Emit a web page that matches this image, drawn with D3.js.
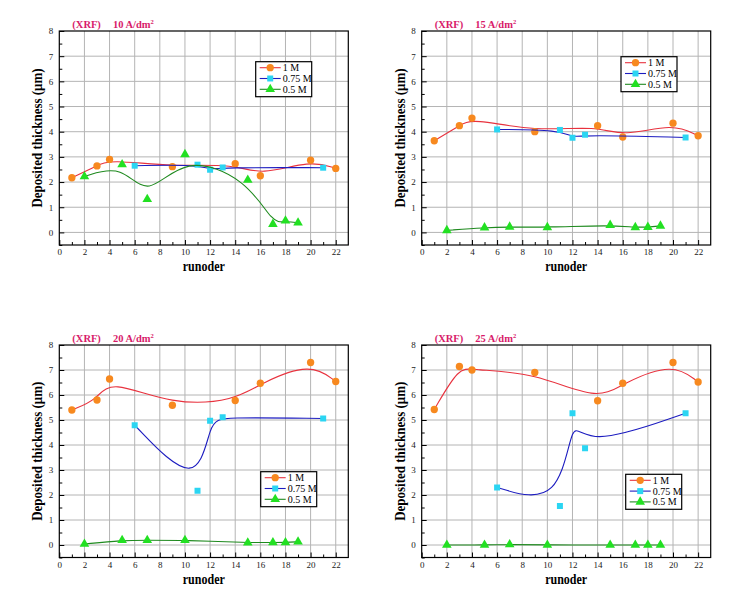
<!DOCTYPE html>
<html><head><meta charset="utf-8">
<script src="https://cdn.jsdelivr.net/npm/d3@7"></script>
<style>body{margin:0;background:#fff}svg{display:block}</style>
</head><body>
<script>
// ---- data ----
const currents = ["10", "15", "20", "25"];
const seriesNames = ["1 M", "0.75 M", "0.5 M"];
const x1M = [1, 3, 4, 9, 14, 16, 20, 22];
const x075M = [6, 11, 12, 13, 21];
const x05M = [2, 5, 7, 10, 15, 17, 18, 19];
const c10_1M = [2.17, 2.64, 2.90, 2.61, 2.73, 2.25, 2.87, 2.54];
const c10_075M = [2.65, 2.69, 2.49, 2.58, 2.57];
const c10_05M = [2.22, 2.70, 1.32, 3.10, 2.08, 0.33, 0.46, 0.38];
const c15_1M = [3.64, 4.24, 4.54, 4.00, 4.24, 3.79, 4.34, 3.84];
const c15_075M = [4.09, 4.07, 3.76, 3.88, 3.77];
const c15_05M = [0.08, 0.19, 0.22, 0.20, 0.29, 0.20, 0.21, 0.26];
const c20_1M = [5.40, 5.80, 6.64, 5.59, 5.78, 6.47, 7.30, 6.54];
const c20_075M = [4.79, 2.17, 4.97, 5.11, 5.06];
const c20_05M = [0.04, 0.19, 0.19, 0.19, 0.09, 0.10, 0.10, 0.13];
const c25_1M = [5.42, 7.14, 7.00, 6.90, 5.77, 6.47, 7.30, 6.52];
const c25_075M = [2.30, 1.56, 5.27, 3.87, 5.27];
const c25_05M = [0.00, 0.00, 0.02, 0.00, 0.00, 0.00, 0.00, 0.00];
const xTicks = [0, 2, 4, 6, 8, 10, 12, 14, 16, 18, 20, 22];
const yTicks = [0, 1, 2, 3, 4, 5, 6, 7, 8];

const panelValues = [
  [c10_1M, c10_075M, c10_05M],
  [c15_1M, c15_075M, c15_05M],
  [c20_1M, c20_075M, c20_05M],
  [c25_1M, c25_075M, c25_05M]
];
const seriesX = [x1M, x075M, x05M];

// ---- style ----
const lineColors = ["#e8323e", "#1c1cc0", "#1f8a1f"];
const markColors = ["#f7891f", "#2bd5f2", "#22e022"];
const serif = "'Liberation Serif','Times New Roman',serif";

const panels = [
  {l: 59.3, r: 348.3, t: 31, b: 245, legend: [255.7, 61.7]},
  {l: 421.7, r: 710.7, t: 31, b: 245, legend: [621, 56.7]},
  {l: 59.3, r: 348.3, t: 345, b: 557.5, legend: [260.7, 471.7]},
  {l: 421.7, r: 710.7, t: 345, b: 557.5, legend: [625.7, 474.3]}
];

const svg = d3.select("body").append("svg").attr("width", 739).attr("height", 608);

panels.forEach((p, pi) => {
  const x = d3.scaleLinear().domain([0, 23]).range([p.l, p.r]);
  const y = d3.scaleLinear().domain([-0.5, 8]).range([p.b, p.t]);
  const g = svg.append("g");

  // grid
  g.append("g").selectAll("line").data(xTicks.filter(v => v > 0)).join("line")
    .attr("x1", d => x(d)).attr("x2", d => x(d)).attr("y1", p.t).attr("y2", p.b)
    .attr("stroke", "#b4b4b4").attr("stroke-width", 1);
  g.append("g").selectAll("line").data(yTicks.filter(v => v < 8)).join("line")
    .attr("x1", p.l).attr("x2", p.r).attr("y1", d => y(d)).attr("y2", d => y(d))
    .attr("stroke", "#b4b4b4").attr("stroke-width", 1);

  // axes (inward ticks)
  const xAxis = d3.axisBottom(x).tickValues(xTicks).tickSize(-5).tickPadding(4).tickFormat(d3.format("d"));
  const yAxis = d3.axisLeft(y).tickValues(yTicks).tickSize(-5).tickPadding(6).tickFormat(d3.format("d"));
  const gx = g.append("g").attr("transform", `translate(0,${p.b})`).call(xAxis);
  const gy = g.append("g").attr("transform", `translate(${p.l},0)`).call(yAxis);
  const xMinor = d3.axisBottom(x).tickValues(d3.range(1, 23, 2)).tickSize(-3).tickFormat("");
  const yMinor = d3.axisLeft(y).tickValues(d3.range(-0.5, 8, 1)).tickSize(-3).tickFormat("");
  g.append("g").attr("transform", `translate(0,${p.b})`).call(xMinor).select(".domain").remove();
  g.append("g").attr("transform", `translate(${p.l},0)`).call(yMinor).select(".domain").remove();
  [gx, gy].forEach(a => {
    a.select(".domain").remove();
    a.selectAll("text").attr("font-family", serif).attr("font-size", 9).attr("fill", "#222");
  });
  g.selectAll(".tick line").attr("stroke", "#000");
  // frame
  g.append("rect").attr("x", p.l).attr("y", p.t).attr("width", p.r - p.l).attr("height", p.b - p.t)
    .attr("fill", "none").attr("stroke", "#000").attr("stroke-width", 1.2);

  // series
  const lineGen = d3.line().curve(d3.curveBasis).x(d => x(d[0])).y(d => y(d[1]));
  const sym = [d3.symbolCircle, d3.symbolSquare, d3.symbolTriangle];
  const symSize = [42, 36, 40];
  panelValues[pi].forEach((vals, si) => {
    const pts = seriesX[si].map((xv, i) => [xv, vals[i]]);
    g.append("path").attr("d", lineGen(pts)).attr("fill", "none")
      .attr("stroke", lineColors[si]).attr("stroke-width", 1.1);
    g.append("g").selectAll("path").data(pts).join("path")
      .attr("transform", d => `translate(${x(d[0])},${y(d[1])})`)
      .attr("d", d3.symbol().type(sym[si]).size(symSize[si]))
      .attr("fill", markColors[si]);
  });

  // legend
  const [lx, ly] = p.legend;
  const lg = g.append("g").attr("transform", `translate(${lx},${ly})`);
  lg.append("rect").attr("width", 56).attr("height", 35).attr("fill", "#fff")
    .attr("stroke", "#000").attr("stroke-width", 1.2);
  seriesNames.forEach((nm, si) => {
    const yy = 6 + si * 10.8;
    lg.append("line").attr("x1", 4).attr("x2", 25).attr("y1", yy).attr("y2", yy)
      .attr("stroke", lineColors[si]).attr("stroke-width", 1.1);
    lg.append("path").attr("transform", `translate(14.5,${yy})`)
      .attr("d", d3.symbol().type(sym[si]).size(symSize[si])).attr("fill", markColors[si]);
    lg.append("text").attr("x", 27).attr("y", yy + 3.5).text(nm)
      .attr("font-family", serif).attr("font-size", 10).attr("fill", "#000");
  });

  // title
  const tt = svg.append("text").attr("x", p.l + 13).attr("y", p.t - 3)
    .attr("font-family", serif).attr("font-size", 10.5).attr("font-weight", "bold").attr("fill", "#d81b6a");
  tt.append("tspan").text("(XRF)");
  tt.append("tspan").attr("dx", 12).text(currents[pi] + " A/dm");
  tt.append("tspan").attr("dy", -4).attr("font-size", 6.5).text("2");

  // axis titles
  const cx = (p.l + p.r) / 2, cy = (p.t + p.b) / 2;
  svg.append("text").attr("x", cx).attr("y", p.b + 26).attr("text-anchor", "middle")
    .attr("font-family", serif).attr("font-size", 15).attr("font-weight", "bold")
    .attr("textLength", 42).attr("lengthAdjust", "spacingAndGlyphs").text("runoder");
  svg.append("text").attr("transform", `translate(${p.l - 17},${cy}) rotate(-90)`)
    .attr("text-anchor", "middle").attr("font-family", serif).attr("font-size", 15)
    .attr("font-weight", "bold").attr("textLength", 139).attr("lengthAdjust", "spacingAndGlyphs")
    .text("Deposited thickness (μm)");
});
</script>
</body></html>
